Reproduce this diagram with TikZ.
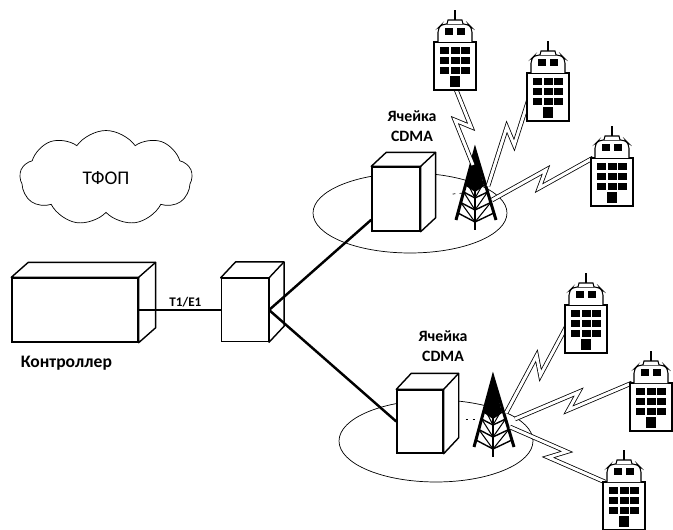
\documentclass[tikz,border=0pt]{standalone}
\usepackage{fontspec}
\setmainfont{Carlito}
\usetikzlibrary{shapes, positioning, calc}
\tikzset{
    box/.style={rectangle, draw, thick, fill=white, inner sep=0pt},
    cell/.style={ellipse, draw, thin, inner sep=0pt},
    trunk/.style={line width=1.4pt},
    bolt/.style={double=white, double distance=1.7pt, line width=0.45pt, line join=miter},
    tag/.style={font=\bfseries\fontsize{9}{11}\selectfont, align=center, inner sep=1pt},
    bld/.style={line width=0.6pt, fill=white},
    % office block, origin in the middle of the roof line of the main body
    building/.pic={
        \draw[bld] (-21,0) rectangle (21,48);
        \draw[bld, rounded corners=2.5pt] (-17,0) -- (-17,-14) -- (-13,-18) -- (13,-18) -- (17,-14) -- (17,0);
        \draw[bld] (-8,-18) -- (-7,-22) -- (7,-22) -- (8,-18);
        \draw[line width=0.6pt] (0,-22) -- (0,-32);
        \foreach \wx in {-15,-4.5,6}
            \foreach \wy in {5,15,25}
                \fill (\wx,\wy) rectangle ++(9,7);
        \fill (-10,-14) rectangle ++(8,7);
        \fill (2,-14) rectangle ++(8,7);
        \fill (-5,34) rectangle ++(10,11);
    },
    % lattice mast, origin at the apex
    tower/.pic={
        \fill (0,-4) -- (-2,8) -- (-9,36) -- (0,42) -- (9,36) -- (2,8) -- cycle;
        \draw[line width=1.7pt] (-19,70) -- (0,0) -- (21,70);
        \draw[line width=1.7pt] (0,0) -- (0,80);
        \foreach \t in {0.45,0.6,0.75,0.9}
            \draw[line width=0.8pt] (-19*\t,70*\t) -- (0,80*\t) -- (21*\t,70*\t);
        \foreach \s/\t in {0.45/0.6,0.6/0.75,0.75/0.9}
            \draw[line width=0.6pt] (-19*\s,70*\s) -- (0,80*\t) -- (21*\s,70*\s);
        \coordinate (-a) at (-2,15);
        \coordinate (-b) at (13,36);
        \coordinate (-c) at (17,50);
        \coordinate (-d) at (22,42);
    }
}

% top and side faces of a box whose front face is node #1
\newcommand{\boxdepth}[3]{%
    \draw[thick, fill=white, line join=round] (#1.north west) -- ($(#1.north west)+(#2,-#3)$)
        -- ($(#1.north east)+(#2,-#3)$) -- ($(#1.south east)+(#2,-#3)$)
        -- (#1.south east) -- (#1.north east) -- cycle;
    \draw[thick] (#1.north east) -- ($(#1.north east)+(#2,-#3)$);}

% radio link with a zigzag in the middle
\newcommand{\zap}[2]{%
    \draw[bolt] (#1) -- ($(#1)!0.56!(#2)!4pt!90:(#2)$) -- ($(#1)!0.44!(#2)!4pt!-90:(#2)$) -- (#2);}

\begin{document}
\begin{tikzpicture}[x=0.02cm, y=-0.02cm, thick]
    \useasboundingbox (0,0) rectangle (673,530);

    % PSTN cloud
    \node[cloud, draw, thin, cloud puffs=9, cloud puff arc=110, aspect=1.9, minimum width=3.45cm, minimum height=1.9cm,
          font=\fontsize{11}{13}\selectfont] (pstn) at (106,178) {ТФОП};

    % Cells
    \node[cell, minimum width=3.88cm, minimum height=1.6cm] (cellA) at (410,213) {};
    \node[cell, minimum width=3.88cm, minimum height=1.64cm] (cellB) at (436,441) {};

    % Controller and hub
    \node[box, minimum width=2.52cm, minimum height=1.28cm] (ctrl) at (75,310) {};
    \boxdepth{ctrl}{17}{15}
    \node[box, right=1.64cm of ctrl, minimum width=0.94cm, minimum height=1.26cm] (hub) {};
    \boxdepth{hub}{15}{16}
    \node[tag, font=\bfseries\fontsize{10}{12}\selectfont, below right=0.22cm and 0.14cm of ctrl.south west] (ctrllbl) {Контроллер};

    % Base stations
    \node[box, minimum width=0.96cm, minimum height=1.28cm] (bsA) at (396,199) {};
    \boxdepth{bsA}{15}{14}
    \node[box, minimum width=0.92cm, minimum height=1.26cm] (bsB) at (420,421.5) {};
    \boxdepth{bsB}{15}{16}
    \node[tag] (lblA) at (412,126) {Ячейка\\CDMA};
    \node[tag] (lblB) at (443,346) {Ячейка\\CDMA};

    % Trunks
    \draw[line width=1.1pt] (ctrl.east) -- node[tag, above, pos=0.57, font=\bfseries\fontsize{7.5}{9}\selectfont] (trunklbl) {T1/E1} (hub.west);
    \draw[trunk] (hub.east) -- (bsA.220);
    \draw[trunk] (hub.east) -- (bsB.west);

    % Masts
    \pic (towA) at (475,150) {tower};
    \pic (towB) at (493,377) {tower};
    \draw[thin, dash pattern=on 1.5pt off 2.5pt] ($(bsA.east)+(32,-5)$) -- ($(bsA.east)+(44,-6)$);
    \draw[thin, dash pattern=on 1.5pt off 2.5pt] ($(bsB.east)+(22,-2)$) -- ($(bsB.east)+(34,-2)$);

    % Anchor points of the subscriber blocks
    \coordinate (homeA-door) at (453,82);
    \coordinate (homeB-side) at (533,86);
    \coordinate (homeC-corner) at (593,158);
    \coordinate (homeD-side) at (571,318);
    \coordinate (homeE-corner) at (632,383);
    \coordinate (homeF-corner) at (605,482);

    % Radio links
    \zap{towA-a}{homeA-door}
    \zap{towA-b}{homeB-side}
    \zap{towA-c}{homeC-corner}
    \zap{towB-b}{homeD-side}
    \zap{towB-d}{homeE-corner}
    \zap{towB-c}{homeF-corner}

    % Subscribers
    \pic (homeA) at (455,42) {building};
    \pic (homeB) at (548,73) {building};
    \pic (homeC) at (612,158) {building};
    \pic (homeD) at (586,305) {building};
    \pic (homeE) at (651,383) {building};
    \pic (homeF) at (624,482) {building};

\end{tikzpicture}
\end{document}
